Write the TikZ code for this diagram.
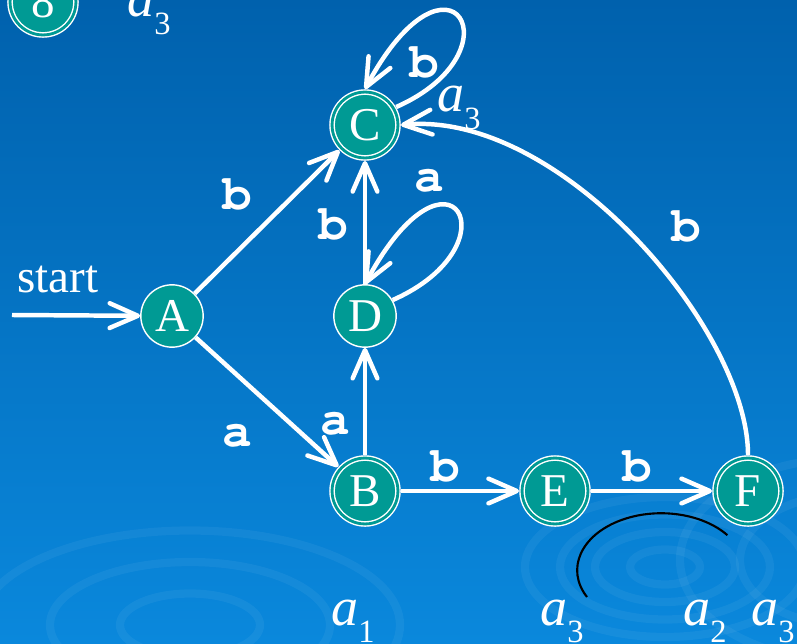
\documentclass[tikz,border=0pt]{standalone}
\usepackage{fontspec}
\setmainfont{Liberation Serif}
\newfontfamily\courierfont{texgyrecursor}[Extension=.otf,UprightFont=*-regular,BoldFont=*-bold]
\usepackage{graphicx}
\usepackage{xcolor}
\usetikzlibrary{positioning,arrows.meta}
\definecolor{stateteal}{HTML}{009A94}
\definecolor{bgtop}{HTML}{0061AD}
\definecolor{bgbottom}{HTML}{0A88DC}
\newcommand{\asub}[1]{\textit{a}\raisebox{-.33em}{\scalebox{.6}{#1}}}
\tikzset{
state/.style={
circle,
draw=white,
fill=stateteal,
line width=1.2pt,
minimum size=53pt,
inner sep=0pt,
text=white,
font=\fontsize{40}{40}\selectfont
},
accepting/.style={
double=stateteal,
double distance=2.4pt,
minimum size=56pt,
outer sep=2.6pt
},
arrow/.style={
-{Straight Barb[length=24pt,width=21pt,round]},
line width=3.8pt,
white
},
lbl/.style={
text=white,
inner sep=0pt,
font=\fontsize{42}{42}\selectfont\courierfont\bfseries
},
varlbl/.style={
text=white,
inner sep=0pt,
font=\fontsize{46}{46}\selectfont
},
ripple/.style={
draw=white,
opacity=.05,
line width=7pt
}
}

\begin{document}
\begin{tikzpicture}[x=0.85pt,y=-0.85pt]
\useasboundingbox (0,0) rectangle (797,643);
\shade[top color=bgtop,bottom color=bgbottom] (0,0) rectangle (797,643);

% ripples in the background
\foreach \r in {35,70,105,140}
\draw[ripple] (665,567) ellipse[x radius=\r,y radius=.5*\r];
\foreach \r in {70,140,210}
\draw[ripple] (190,625) ellipse[x radius=\r,y radius=.45*\r];
\foreach \r in {110,170}
\draw[ripple] (850,560) ellipse[x radius=\r,y radius=.6*\r];
\draw[black,line width=1.8pt] (587,597) arc[start angle=152,end angle=322,x radius=84,y radius=57];

% states
\node[state,accepting](S8) at (43,2){8};
\node[state](A) at (172,316){A};
\node[state,accepting](C) at (365,125){C};
\node[state](D) at (365,316){D};
\node[state,accepting](B) at (365,491){B};
\node[state,accepting](E) at (555,491){E};
\node[state,accepting](F) at (748,491){F};
\coordinate(in) at (12,315);

% a labels
\node[varlbl,anchor=base west](s8a) at (127,17){\asub{3}};
\node[varlbl,anchor=base west](ca) at (437,112){\asub{3}};
\node[varlbl,anchor=base west](ba) at (331,625){\asub{1}};
\node[varlbl,anchor=base west](ea) at (540,625){\asub{3}};
\node[varlbl,anchor=base west](fa) at (683,625){\asub{2}};
\node[varlbl,anchor=base west](fb) at (751,625){\asub{3}};

% transitions
\draw[arrow](in)--node[text=white,font=\fontsize{40}{40}\selectfont,shift={(-18,-36)}](st){start}(A);
\draw[arrow](A)--node[lbl,shift={(-30,-28)}]{b}(C);
\draw[arrow](A)--node[lbl,shift={(-30,34)}]{a}(B);
\draw[arrow](B)--node[lbl,shift={(-30,22)}]{a}(D);
\draw[arrow](D)--node[lbl,shift={(-32,2)}]{b}(C);
\draw[arrow](B)--node[lbl,shift={(-15,-25)}]{b}(E);
\draw[arrow](E)--node[lbl,shift={(-14,-25)}]{b}(F);
\draw[arrow](F.north) .. controls +(0,-125) and +(159,-15) .. (C.east)
node[lbl,pos=.5,shift={(52,-11)}]{b};
\draw[arrow](C.30) .. controls +(125,-55) and +(85,-158) .. (C.north)
node[lbl,pos=.5,shift={(-35,44)}]{b};
\draw[arrow](D.30) .. controls +(125,-55) and +(85,-158) .. (D.north)
node[lbl,pos=.5,shift={(-28,-31)}]{a};
\end{tikzpicture}
\end{document}
